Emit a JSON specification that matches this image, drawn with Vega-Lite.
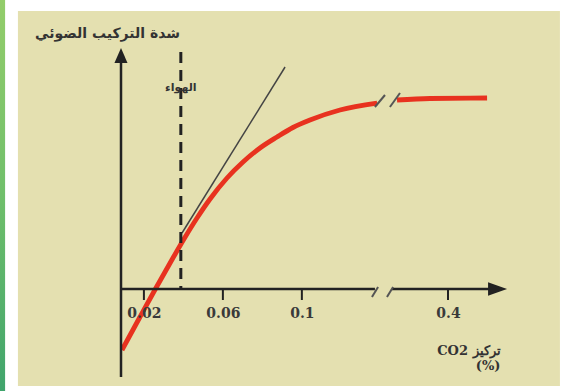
{
  "$schema": "https://vega.github.io/schema/vega-lite/v6.json",
  "width": 387,
  "height": 241,
  "autosize": {"type": "none"},
  "padding": {"left": 121, "top": 48, "right": 56, "bottom": 102},
  "background": "#ffffff",
  "config": {"view": {"stroke": null}},
  "datasets": {
    "one": [{"k": 1}],
    "tickpos": [{"tx": 0.02, "ty": -2.75}, {"tx": 0.06, "ty": -2.75}, {"tx": 0.1, "ty": -2.75}, {"tx": 0.174, "ty": -2.75}],
    "curve": [
      {"seg": "a", "x": 0.0089, "y": -30.5},
      {"seg": "a", "x": 0.0180, "y": -14},
      {"seg": "a", "x": 0.0261, "y": 0.5},
      {"seg": "a", "x": 0.0347, "y": 15.5},
      {"seg": "a", "x": 0.0403, "y": 25},
      {"seg": "a", "x": 0.0469, "y": 35.5},
      {"seg": "a", "x": 0.0535, "y": 45},
      {"seg": "a", "x": 0.0621, "y": 55.5},
      {"seg": "a", "x": 0.0702, "y": 63.5},
      {"seg": "a", "x": 0.0788, "y": 70.5},
      {"seg": "a", "x": 0.0874, "y": 76},
      {"seg": "a", "x": 0.0955, "y": 80.75},
      {"seg": "a", "x": 0.1041, "y": 84.5},
      {"seg": "a", "x": 0.1193, "y": 89.5},
      {"seg": "a", "x": 0.1381, "y": 93},
      {"seg": "b", "x": 0.1482, "y": 94.5},
      {"seg": "b", "x": 0.1649, "y": 95.25},
      {"seg": "b", "x": 0.1938, "y": 95.5}
    ],
    "axislines": [
      {"x": 0.0084, "y": -44, "x2": 0.0084, "y2": 116},
      {"x": 0.0084, "y": 0, "x2": 0.1370, "y2": 0},
      {"x": 0.1456, "y": 0, "x2": 0.1950, "y2": 0}
    ],
    "breaks": [
      {"x": 0.1355, "y": -4, "x2": 0.1386, "y2": 1},
      {"x": 0.1431, "y": -4, "x2": 0.1462, "y2": 1},
      {"x": 0.1370, "y": 91, "x2": 0.1421, "y2": 97},
      {"x": 0.1446, "y": 91, "x2": 0.1497, "y2": 98}
    ],
    "tangent": [{"x": 0.0393, "y": 28, "x2": 0.0915, "y2": 111}],
    "air": [{"x": 0.0387, "y": 118.5, "y2": 0, "label": "الهواء", "ly": 100.5}]
  },
  "layer": [
    {
      "data": {"name": "one"},
      "mark": {"type": "rect", "fill": {"gradient": "linear", "x1": 0, "y1": 0, "x2": 0, "y2": 1, "stops": [{"offset": 0, "color": "#93cd6a"}, {"offset": 0.5, "color": "#6fbf6a"}, {"offset": 1, "color": "#40a46c"}]}},
      "encoding": {
        "x": {"datum": -0.0529, "type": "quantitative"},
        "x2": {"datum": -0.0503},
        "y": {"datum": 144.5, "type": "quantitative"},
        "y2": {"datum": -51}
      }
    },
    {
      "data": {"name": "one"},
      "mark": {"type": "rect", "fill": "#e4e0b0"},
      "encoding": {
        "x": {"datum": -0.0438, "type": "quantitative"},
        "x2": {"datum": 0.2307},
        "y": {"datum": 139, "type": "quantitative"},
        "y2": {"datum": -48.5}
      }
    },
    {
      "data": {"name": "curve"},
      "mark": {"type": "line", "color": "#e8321f", "strokeWidth": 4.8, "interpolate": "monotone"},
      "encoding": {
        "x": {
          "field": "x", "type": "quantitative",
          "scale": {"domain": [0.0084, 0.2044], "nice": false, "zero": false},
          "axis": {
            "values": [0.02, 0.06, 0.1, 0.174],
            "labelExpr": "datum.value > 0.15 ? '0.4' : format(datum.value, '.2~f')",
            "domain": false, "grid": false, "ticks": false,
            "labelFont": "DejaVu Serif", "labelFontSize": 14, "labelFontWeight": "bold",
            "labelColor": "#3a3a3a", "labelPadding": 17, "labelDx": 3, "labelFlush": false,
            "title": ["CO2 تركيز", "(%)"],
            "titleFont": "DejaVu Serif", "titleFontSize": 13, "titleFontWeight": "bold",
            "titleColor": "#333333", "titleAlign": "right", "titleBaseline": "middle",
            "titleX": 379, "titleY": 61, "titleLineHeight": 15,
            "zindex": 1
          }
        },
        "y": {
          "field": "y", "type": "quantitative",
          "scale": {"domain": [0, 120.5], "nice": false, "zero": false},
          "axis": {
            "domain": false, "ticks": false, "labels": false, "grid": false,
            "title": "شدة التركيب الضوئي",
            "titleFont": "DejaVu Sans", "titleFontSize": 14, "titleFontWeight": "bold",
            "titleColor": "#333333", "titleAngle": 0, "titleAlign": "center", "titleBaseline": "middle",
            "titleX": -14, "titleY": -15,
            "zindex": 1
          }
        },
        "detail": {"field": "seg"}
      }
    },
    {
      "data": {"name": "tickpos"},
      "mark": {"type": "tick", "orient": "vertical", "color": "#222222", "thickness": 2, "size": 11, "opacity": 1},
      "encoding": {
        "x": {"field": "tx", "type": "quantitative"},
        "y": {"field": "ty", "type": "quantitative"}
      }
    },
    {
      "data": {"name": "axislines"},
      "mark": {"type": "rule", "color": "#222222", "strokeWidth": 2.5},
      "encoding": {
        "x": {"field": "x", "type": "quantitative"},
        "y": {"field": "y", "type": "quantitative"},
        "x2": {"field": "x2"},
        "y2": {"field": "y2"}
      }
    },
    {
      "data": {"name": "breaks"},
      "mark": {"type": "rule", "color": "#555555", "strokeWidth": 2},
      "encoding": {
        "x": {"field": "x", "type": "quantitative"},
        "y": {"field": "y", "type": "quantitative"},
        "x2": {"field": "x2"},
        "y2": {"field": "y2"}
      }
    },
    {
      "data": {"name": "tangent"},
      "mark": {"type": "rule", "color": "#444444", "strokeWidth": 1.5},
      "encoding": {
        "x": {"field": "x", "type": "quantitative"},
        "y": {"field": "y", "type": "quantitative"},
        "x2": {"field": "x2"},
        "y2": {"field": "y2"}
      }
    },
    {
      "data": {"name": "air"},
      "mark": {"type": "rule", "color": "#222222", "strokeWidth": 3, "strokeDash": [11, 7]},
      "encoding": {
        "x": {"field": "x", "type": "quantitative"},
        "y": {"field": "y", "type": "quantitative"},
        "y2": {"field": "y2"}
      }
    },
    {
      "data": {"name": "air"},
      "mark": {"type": "text", "font": "DejaVu Sans", "fontSize": 11, "fontWeight": "bold", "color": "#333333", "align": "center", "baseline": "middle"},
      "encoding": {
        "x": {"field": "x", "type": "quantitative"},
        "y": {"field": "ly", "type": "quantitative"},
        "text": {"field": "label"}
      }
    },
    {
      "data": {"name": "one"},
      "mark": {"type": "point", "shape": "M0,-1L0.87,1L-0.87,1Z", "filled": true, "color": "#222222", "size": 225, "opacity": 1},
      "encoding": {
        "x": {"datum": 0.0084, "type": "quantitative"},
        "y": {"datum": 116.75, "type": "quantitative"}
      }
    },
    {
      "data": {"name": "one"},
      "mark": {"type": "point", "shape": "M1,0L-1,-0.7L-1,0.7Z", "filled": true, "color": "#222222", "size": 361, "opacity": 1},
      "encoding": {
        "x": {"datum": 0.1991, "type": "quantitative"},
        "y": {"datum": 0, "type": "quantitative"}
      }
    }
  ]
}
